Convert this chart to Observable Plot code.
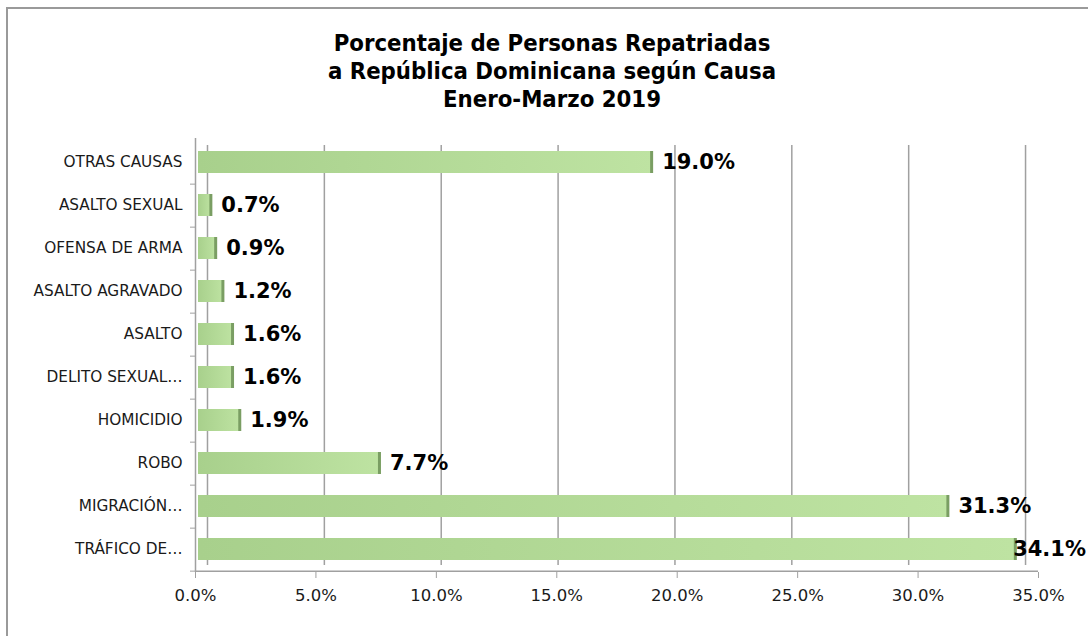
<!DOCTYPE html>
<html><head><meta charset="utf-8">
<script src="https://cdn.jsdelivr.net/npm/d3@7"></script>
<script src="https://cdn.jsdelivr.net/npm/@observablehq/plot@0.6"></script>
<style>
body{margin:0;background:#fff;}
#wrap{position:relative;width:1088px;height:636px;overflow:hidden;}
#border{position:absolute;left:6px;top:7px;width:1100px;height:660px;border:2px solid #9a9a9a;box-sizing:border-box;pointer-events:none;}
#title{box-sizing:border-box;height:125px;padding-top:29px;padding-left:16px;text-align:center;font-family:"DejaVu Sans Condensed","DejaVu Sans",sans-serif;font-stretch:condensed;font-weight:bold;font-size:23.7px;line-height:28px;color:#000;}
#chart svg{display:block;}
</style></head>
<body>
<div id="wrap">
<div id="border"></div>
<div id="title">Porcentaje de Personas Repatriadas<br>a República Dominicana según Causa<br>Enero-Marzo 2019</div>
<div id="chart"></div>
</div>
<script>
const categories = ["OTRAS CAUSAS","ASALTO SEXUAL","OFENSA DE ARMA","ASALTO AGRAVADO","ASALTO","DELITO SEXUAL…","HOMICIDIO","ROBO","MIGRACIÓN…","TRÁFICO DE…"];
const values = [19.0,0.7,0.9,1.2,1.6,1.6,1.9,7.7,31.3,34.1];
const xTicks = [0,5,10,15,20,25,30,35];

const data = categories.map((c,i)=>({cause:c, value:values[i]}));
const W = 1088, H = 511, mt = 14, mb = 64, ml = 195, mr = 50;
const halfStep = (H - mt - mb) / categories.length / 2;
// back-wall perspective of gridlines
const backX = v => 0.498 + v * 0.9704;
const pct = d => d.toFixed(1) + "%";

const svg = Plot.plot({
  width: W, height: H, marginTop: mt, marginBottom: mb, marginLeft: ml, marginRight: mr,
  style: {fontFamily: "DejaVu Sans, sans-serif", color: "#1a1a1a", background: "transparent", overflow: "visible"},
  x: {domain: [0, 35], label: null},
  y: {domain: categories, paddingInner: 0.5, paddingOuter: 0.25, label: null},
  marks: [
    Plot.ruleX(xTicks.map(backX), {stroke: "#a0a0a0", strokeWidth: 1.5, insetTop: 6, insetBottom: 7}),
    Plot.ruleX([0], {stroke: "#a0a0a0", strokeWidth: 1.5, insetTop: -1}),
    Plot.ruleY([categories[categories.length - 1]], {stroke: "#a0a0a0", strokeWidth: 1.5, dy: halfStep}),
    Plot.barX(data, {x: "value", y: "cause", fill: "url(#barGrad)", insetLeft: 3}),
    Plot.tickX(data, {x: "value", y: "cause", stroke: "#7a9e63", strokeWidth: 3, dx: -1.5}),
    Plot.text(data, {x: "value", y: "cause", text: d => pct(d.value), textAnchor: "start", dx: 9, fontSize: 21, fontWeight: "bold", fill: "#000", className: "vlab"}),
    Plot.axisX(xTicks, {tickSize: 6, tickPadding: 11, tickFormat: pct, fontSize: 16.5, stroke: "#a0a0a0", label: null}),
    Plot.axisY({tickSize: 5, tickFormat: () => "", dy: halfStep, stroke: "#a0a0a0", label: null}),
    Plot.axisY({tickSize: 0, tickPadding: 13, fontSize: 15.3, label: null})
  ]
});

const defs = d3.select(svg).insert("defs", ":first-child");
const g = defs.append("linearGradient").attr("id", "barGrad").attr("x1", "0").attr("x2", "1").attr("y1", "0").attr("y2", "0");
g.append("stop").attr("offset", "0%").attr("stop-color", "#a8d08c");
g.append("stop").attr("offset", "100%").attr("stop-color", "#bee3a2");

document.getElementById("chart").appendChild(svg);

// keep value labels inside the picture (as the original does for the longest bar)
svg.querySelectorAll(".vlab text").forEach(t => {
  const b = t.getBoundingClientRect();
  if (b.right > W - 2) {
    const cur = +(t.getAttribute("dx") || 0);
    t.setAttribute("dx", cur - (b.right - (W - 2)));
  }
});
</script>
</body></html>
